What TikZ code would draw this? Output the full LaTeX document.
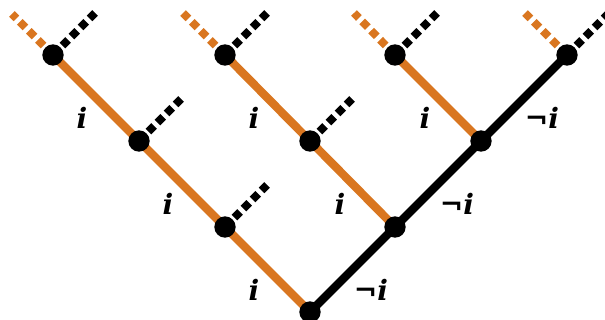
\documentclass[tikz,border=0pt]{standalone}
\usepackage{fontspec}
\newfontfamily\labfont{DejaVu Serif}
\begin{document}
\begin{tikzpicture}[x=0.75pt,y=-0.75pt,
  dot/.style={circle,fill=black,inner sep=0pt,minimum size=16pt},
  orng/.style={draw=treeor,line width=6.2pt},
  blk/.style={draw=black,line width=6.2pt},
  dstub/.style={line width=6pt,dash pattern=on 6pt off 3.6pt,shorten <=10pt},
  lab/.style={font=\labfont\bfseries\itshape\fontsize{21}{24}\selectfont,inner sep=0pt}]
\definecolor{treeor}{RGB}{217,118,32}
\useasboundingbox (0,0) rectangle (605,320);
\clip (0,0) rectangle (605,320);
% node positions
\coordinate (r) at (310,312);
\coordinate (a1) at (225,227); \coordinate (a2) at (395,227);
\coordinate (b1) at (139,141); \coordinate (b2) at (310,141); \coordinate (b3) at (481,141);
\coordinate (c1) at (53,55); \coordinate (c2) at (225,55); \coordinate (c3) at (395,55); \coordinate (c4) at (567,55);
% stub ends
\coordinate (c1l) at (12,14); \coordinate (c1r) at (95,13);
\coordinate (c2l) at (183,13); \coordinate (c2r) at (267,13);
\coordinate (c3l) at (354,13); \coordinate (c3r) at (437,13);
\coordinate (c4l) at (525,13); \coordinate (c4r) at (609,13);
\coordinate (b1r) at (181,99); \coordinate (b2r) at (352,99);
\coordinate (a1r) at (267,185);
% edges
\draw[orng] (c1) -- (b1) -- (a1) -- (r);
\draw[orng] (c2) -- (b2) -- (a2);
\draw[orng] (c3) -- (b3);
\draw[blk] (r) -- (a2) -- (b3) -- (c4);
% stubs
\foreach \n in {c1,c2,c3,c4}{
  \draw[dstub,treeor] (\n) -- (\n l);
  \draw[dstub,black] (\n) -- (\n r);
}
\foreach \n in {b1,b2,a1}{
  \draw[dstub,black] (\n) -- (\n r);
}
% nodes
\foreach \n in {r,a1,a2,b1,b2,b3,c1,c2,c3,c4}{
  \node[dot] (n\n) at (\n) {};
}
% labels
\node[lab] (l1) at (82,118) {i};
\node[lab] (l2) at (168,204) {i};
\node[lab] (l3) at (254,290) {i};
\node[lab] (l4) at (254,118) {i};
\node[lab] (l5) at (340,204) {i};
\node[lab] (l6) at (425,118) {i};
\node[lab] (l7) at (542,118) {¬i};
\node[lab] (l8) at (457,204) {¬i};
\node[lab] (l9) at (371,290) {¬i};
\end{tikzpicture}
\end{document}
